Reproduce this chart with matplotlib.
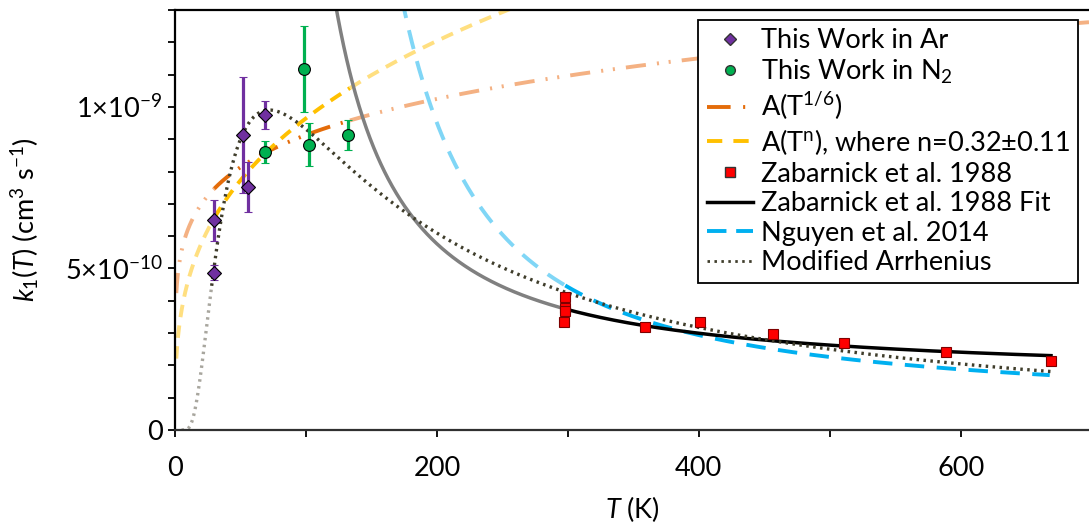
"""Rate coefficient k1(T) versus temperature with literature fits."""

import numpy as np
import matplotlib
matplotlib.use("Agg")
import matplotlib.pyplot as plt
from matplotlib.lines import Line2D

# Measured rate coefficients (cm3 s-1, in units of 1e-9)
ar_T = [30, 30, 52, 56, 69]
ar_k = [0.649, 0.487, 0.913, 0.752, 0.976]
ar_err = [0.064, 0.024, 0.179, 0.076, 0.043]

n2_T = [69, 98.5, 102, 132]
n2_k = [0.860, 1.118, 0.883, 0.914]
n2_err = [0.035, 0.134, 0.066, 0.047]

zab_T = [298, 298, 298, 297, 359, 401, 457, 511, 589, 669]
zab_k = [0.412, 0.378, 0.367, 0.333, 0.318, 0.333, 0.298, 0.270, 0.241, 0.215]

# Fit parameters (k in units of 1e-9)
A_SIXTH = 0.4238          # A(T^1/6)
A_N, N_EXP = 0.221, 0.32  # A(T^n)
ZAB_A, ZAB_B = 0.1556, 261.9            # A exp(B/T)
NGU_LNA, NGU_N, NGU_B = -0.2223, -0.3257, 379.5   # exp(a) T^n exp(B/T)
MA_K300, MA_N, MA_C = 0.424, -1.2716, 91.55      # k300 (T/300)^n exp(-C (1/T - 1/300))

T_LO, T_HI = 30, 133.6    # range covered by this work
T_MAX = 698

ORANGE, ORANGE_LT = "#E46C0A", "#F4B183"
YELLOW, YELLOW_LT = "#FFC000", "#FFDF80"
BLUE, BLUE_LT = "#00B0F0", "#80D6F6"
DOT, DOT_LT = "#3F3D2B", "#A8A69E"

FS = 19.5

plt.rcParams["font.family"] = ["Lato", "DejaVu Sans"]
plt.rcParams["mathtext.fontset"] = "custom"
plt.rcParams["mathtext.rm"] = "Lato"
plt.rcParams["mathtext.it"] = "Lato:italic"
plt.rcParams["mathtext.default"] = "regular"
plt.rcParams["lines.scale_dashes"] = False
plt.rcParams["axes.unicode_minus"] = True


def k_sixth(T):
    return A_SIXTH * T ** (1 / 6)


def k_power(T):
    return A_N * T ** N_EXP


def k_zab(T):
    return ZAB_A * np.exp(ZAB_B / T)


def k_nguyen(T):
    return np.exp(NGU_LNA) * T ** NGU_N * np.exp(NGU_B / T)


def k_mod_arr(T):
    return MA_K300 * (T / 300) ** MA_N * np.exp(-MA_C * (1 / T - 1 / 300))


def seg(lo, hi, n=400):
    return np.linspace(lo, hi, n)


fig = plt.figure(figsize=(10.89, 5.27), dpi=100)
ax = fig.add_axes([175 / 1089, 97 / 527, 914 / 1089, 420 / 527])

dashdotdot = (0, (14.5, 8, 1.5, 7, 1.5, 8))
dashed_y = (0, (9, 6))
dashed_b = (0, (14, 9))
dotted = (0, (1.8, 3.2))

# A(T^1/6)
for lo, hi, c in [(1, T_LO, ORANGE_LT), (T_LO, T_HI, ORANGE), (T_HI, T_MAX, ORANGE_LT)]:
    t = seg(lo, hi)
    ax.plot(t, k_sixth(t) * 1e-9, color=c, lw=2.8, ls=dashdotdot, zorder=2)

# A(T^n)
for lo, hi, c in [(1, T_LO, YELLOW_LT), (T_LO, T_HI, YELLOW), (T_HI, 300, YELLOW_LT)]:
    t = seg(lo, hi)
    ax.plot(t, k_power(t) * 1e-9, color=c, lw=2.8, ls=dashed_y, zorder=2)

# Zabarnick fit and its extrapolation
t = seg(115, 298)
ax.plot(t, k_zab(t) * 1e-9, color="#808080", lw=2.5, zorder=2)
t = seg(298, 669)
ax.plot(t, k_zab(t) * 1e-9, color="black", lw=2.5, zorder=3)

# Nguyen et al. 2014
t = seg(165, 298)
ax.plot(t, k_nguyen(t) * 1e-9, color=BLUE_LT, lw=2.8, ls=dashed_b, zorder=2)
t = seg(298, 668)
ax.plot(t, k_nguyen(t) * 1e-9, color=BLUE, lw=2.8, ls=dashed_b, zorder=2)

# Modified Arrhenius
t = seg(5, 28)
ax.plot(t, k_mod_arr(t) * 1e-9, color=DOT_LT, lw=2.4, ls=dotted, zorder=2)
t = seg(28, 669)
ax.plot(t, k_mod_arr(t) * 1e-9, color=DOT, lw=2.4, ls=dotted, zorder=3)

# Data
ax.errorbar(ar_T, np.array(ar_k) * 1e-9, yerr=np.array(ar_err) * 1e-9, fmt="D",
            color="#7030A0", mfc="#7030A0", mec="black", mew=0.8, ms=7.5,
            elinewidth=2.3, capsize=3, capthick=2.3, zorder=5)
ax.errorbar(n2_T, np.array(n2_k) * 1e-9, yerr=np.array(n2_err) * 1e-9, fmt="o",
            color="#00B050", mfc="#00B050", mec="black", mew=0.8, ms=8.5,
            elinewidth=2.3, capsize=3, capthick=2.3, zorder=5)
ax.plot(zab_T, np.array(zab_k) * 1e-9, "s", color="#FF0000", mec="#7F0000",
        mew=0.8, ms=7.5, zorder=6)

ax.set_xlim(0, T_MAX)
ax.set_ylim(0, 1.3e-9)
ax.set_xticks(np.arange(0, 700, 100))
ax.set_xticklabels(["0", "", "200", "", "400", "", "600"])
ax.set_yticks(np.arange(0, 1.31e-9, 1e-10))
ylabels = [""] * 14
ylabels[0] = "0"
ylabels[5] = r"5×10$^{-10}$"
ylabels[10] = r"1×10$^{-9}$"
ax.set_yticklabels(ylabels)
ax.tick_params(axis="both", direction="out", length=5, width=1.3, labelsize=FS)
ax.tick_params(axis="x", pad=14)
ax.tick_params(axis="y", pad=4)

for side in ("left", "top", "bottom"):
    ax.spines[side].set_linewidth(1.6)
ax.spines["bottom"].set_color("#303030")
ax.spines["right"].set_visible(False)

ax.set_xlabel(r"$\mathit{T}$ (K)", fontsize=FS, labelpad=9)
ax.set_ylabel(r"$\mathit{k_1}$($\mathit{T}$) (cm$^{3}$ s$^{-1}$)", fontsize=FS, labelpad=17)

handles = [
    Line2D([], [], ls="none", marker="D", color="#7030A0", mec="#333333", ms=6.5),
    Line2D([], [], ls="none", marker="o", color="#00B050", mec="#333333", ms=7),
    Line2D([], [], color=ORANGE, lw=2.8, ls=(0, (17, 9, 1.5, 30))),
    Line2D([], [], color=YELLOW, lw=2.8, ls=(0, (11, 8))),
    Line2D([], [], ls="none", marker="s", color="#FF0000", mec="#333333", ms=6.5),
    Line2D([], [], color="black", lw=2.5),
    Line2D([], [], color=BLUE, lw=2.8, ls=(0, (14, 7))),
    Line2D([], [], color=DOT, lw=2.0, ls=dotted),
]
labels = [
    "This Work in Ar",
    r"This Work in N$_{2}$",
    r"A(T$^{1/6}$)",
    r"A(T$^{n}$), where n=0.32±0.11",
    "Zabarnick et al. 1988",
    "Zabarnick et al. 1988 Fit",
    "Nguyen et al. 2014",
    "Modified Arrhenius",
]
leg = ax.legend(handles, labels, loc="upper right", bbox_to_anchor=(0.988, 0.976),
                fontsize=FS, frameon=True, fancybox=False, framealpha=1,
                edgecolor="black", handlelength=1.7, handletextpad=0.3,
                labelspacing=0.17, borderpad=0.3, borderaxespad=0)
leg.get_frame().set_linewidth(1.3)
leg.set_zorder(10)

fig.savefig("out.png", dpi=100)
